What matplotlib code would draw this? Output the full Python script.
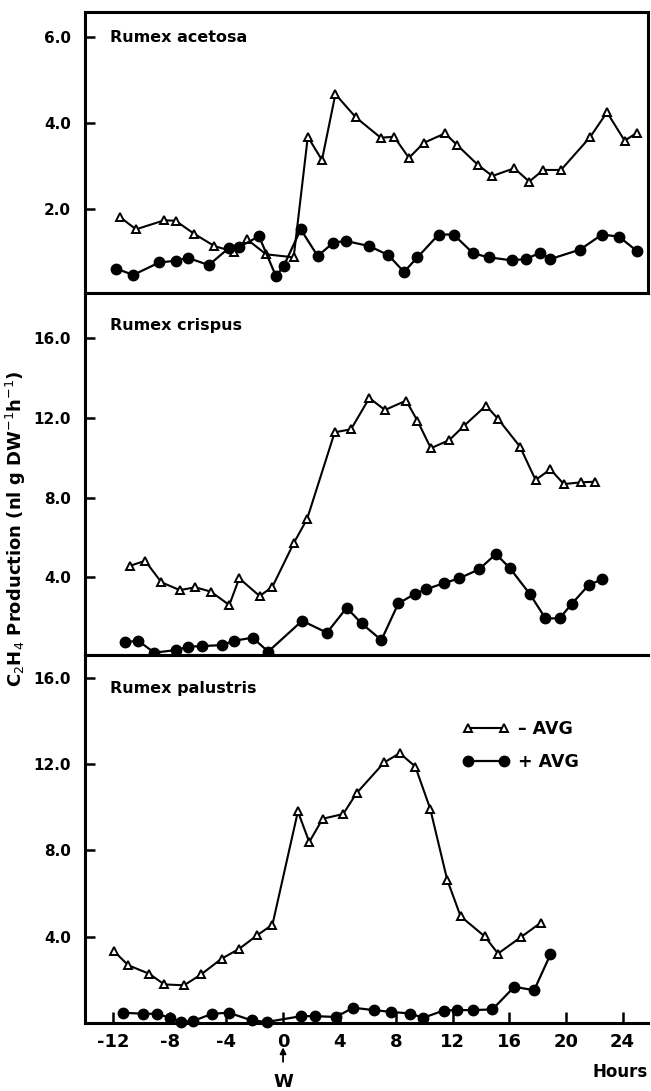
import numpy as np
import matplotlib
matplotlib.use("Agg")
import matplotlib.pyplot as plt

plt.rcParams['font.family'] = ['DejaVu Sans']

# --- Rumex acetosa ---
ac_t_x = [-11.5, -10.4, -8.4, -7.6, -6.3, -4.85, -3.45, -2.55, -1.2, 0.75, 1.75, 2.75,
          3.7, 5.15, 6.9, 7.85, 8.9, 9.95, 11.45, 12.3, 13.8, 14.8, 16.35, 17.4, 18.4,
          19.65, 21.7, 22.9, 24.15, 25.05]
ac_t_y = [1.81, 1.53, 1.74, 1.73, 1.43, 1.14, 1.01, 1.30, 0.95, 0.88, 3.68, 3.14,
          4.67, 4.13, 3.66, 3.68, 3.19, 3.54, 3.76, 3.49, 3.02, 2.77, 2.95, 2.64, 2.91,
          2.91, 3.67, 4.25, 3.59, 3.78]
ac_c_x = [-11.8, -10.6, -8.75, -7.6, -6.75, -5.25, -3.85, -3.1, -1.7, -0.5, 0.05, 1.25,
          2.45, 3.55, 4.45, 6.1, 7.45, 8.55, 9.5, 11.0, 12.05, 13.45, 14.55, 16.15, 17.15,
          18.15, 18.9, 21.0, 22.55, 23.75, 25.0]
ac_c_y = [0.62, 0.47, 0.76, 0.80, 0.87, 0.70, 1.09, 1.12, 1.37, 0.44, 0.68, 1.53,
          0.91, 1.22, 1.26, 1.14, 0.93, 0.54, 0.88, 1.41, 1.41, 0.97, 0.88, 0.81, 0.84,
          0.98, 0.84, 1.06, 1.41, 1.36, 1.03]

# --- Rumex crispus ---
cr_t_x = [-10.85, -9.75, -8.6, -7.3, -6.2, -5.1, -3.8, -3.1, -1.65, -0.75, 0.75, 1.7,
          3.65, 4.8, 6.1, 7.2, 8.7, 9.5, 10.45, 11.75, 12.8, 14.35, 15.2, 16.75, 17.85,
          18.9, 19.85, 21.05, 22.05]
cr_t_y = [4.57, 4.83, 3.75, 3.36, 3.50, 3.28, 2.61, 3.95, 3.06, 3.53, 5.71, 6.93,
          11.28, 11.43, 13.0, 12.4, 12.87, 11.86, 10.48, 10.89, 11.61, 12.62, 11.95, 10.56, 8.89,
          9.42, 8.68, 8.77, 8.80]
cr_c_x = [-11.2, -10.25, -9.1, -7.55, -6.7, -5.7, -4.3, -3.45, -2.15, -1.05, 1.35, 3.1,
          4.5, 5.55, 6.95, 8.15, 9.3, 10.1, 11.35, 12.45, 13.85, 15.05, 16.05, 17.45, 18.55,
          19.55, 20.4, 21.6, 22.55]
cr_c_y = [0.74, 0.82, 0.22, 0.35, 0.52, 0.55, 0.60, 0.82, 0.97, 0.27, 1.82, 1.22,
          2.47, 1.69, 0.85, 2.69, 3.16, 3.40, 3.70, 3.95, 4.40, 5.17, 4.45, 3.16, 1.94,
          1.94, 2.66, 3.61, 3.90]

# --- Rumex palustris ---
pa_t_x = [-11.95, -10.95, -9.45, -8.4, -7.0, -5.8, -4.35, -3.1, -1.85, -0.75, 1.05, 1.85,
          2.8, 4.25, 5.2, 7.15, 8.25, 9.35, 10.4, 11.6, 12.55, 14.25, 15.2, 16.85, 18.2]
pa_t_y = [3.33, 2.68, 2.28, 1.79, 1.75, 2.25, 2.98, 3.44, 4.06, 4.56, 9.81, 8.39,
          9.47, 9.69, 10.66, 12.08, 12.51, 11.89, 9.94, 6.65, 4.95, 4.02, 3.22, 4.00, 4.64]
pa_c_x = [-11.35, -9.9, -8.9, -8.0, -7.2, -6.35, -5.0, -3.85, -2.2, -1.15, 1.3, 2.25,
          3.75, 4.95, 6.4, 7.6, 9.0, 9.9, 11.35, 12.3, 13.4, 14.8, 16.35, 17.75, 18.9]
pa_c_y = [0.48, 0.43, 0.43, 0.24, 0.05, 0.10, 0.43, 0.48, 0.12, 0.05, 0.32, 0.32,
          0.28, 0.71, 0.60, 0.52, 0.44, 0.24, 0.58, 0.60, 0.60, 0.63, 1.68, 1.52, 3.18]

panels = [
    ("Rumex acetosa", ac_t_x, ac_t_y, ac_c_x, ac_c_y, (0.05, 6.58), [2, 4, 6]),
    ("Rumex crispus", cr_t_x, cr_t_y, cr_c_x, cr_c_y, (0.1, 18.27), [4, 8, 12, 16]),
    ("Rumex palustris", pa_t_x, pa_t_y, pa_c_x, pa_c_y, (0.0, 17.06), [4, 8, 12, 16]),
]
xticks = [-12, -8, -4, 0, 4, 8, 12, 16, 20, 24]

fig = plt.figure(figsize=(6.51, 10.91), dpi=100)
boxes = [(0.7314, 0.989), (0.3996, 0.7314), (0.0623, 0.3996)]
left, right = 0.1306, 0.9954

for i, (name, tx, ty, cx, cy, ylim, yt) in enumerate(panels):
    b, t = boxes[i]
    ax = fig.add_axes([left, b, right - left, t - b])
    ax.plot(tx, ty, '-', color='black', lw=1.5, marker='^', ms=5.5,
            mfc='white', mec='black', mew=1.4, label='– AVG', clip_on=False, zorder=3)
    ax.plot(cx, cy, '-', color='black', lw=1.6, marker='o', ms=7.5,
            mfc='black', mec='black', label='+ AVG', clip_on=False, zorder=3)
    ax.set_xlim(-14, 25.8)
    ax.set_ylim(*ylim)
    ax.set_yticks(yt)
    ax.set_yticklabels(['%.1f' % v for v in yt], fontweight='bold', fontsize=11)
    ax.tick_params(axis='y', direction='in', length=7, width=1.8, pad=10)
    for s in ax.spines.values():
        s.set_linewidth(2.2)
    if i > 0:
        ax.spines['right'].set_visible(False)
    ax.text(0.045, 0.91, name, transform=ax.transAxes, fontsize=11.5,
            fontweight='bold', va='center', ha='left')
    if i < 2:
        ax.set_xticks([])
    else:
        ax.set_xticks(xticks)
        ax.set_xticklabels([str(v) for v in xticks], fontsize=13, fontweight='bold')
        ax.tick_params(axis='x', direction='in', length=8, width=1.8, pad=7)
        ax.set_xlabel('Hours', loc='right', fontsize=12, fontweight='bold', labelpad=9)
        ax.annotate('W', xy=(0, -0.066), xycoords=('data', 'axes fraction'),
                    xytext=(0, -0.16), textcoords=('data', 'axes fraction'),
                    ha='center', va='center', fontsize=13, fontweight='bold',
                    arrowprops=dict(arrowstyle='-|>', color='black', lw=1.3,
                                    shrinkA=6, shrinkB=0, mutation_scale=9))
        ax.legend(loc='upper right', bbox_to_anchor=(0.905, 0.865), numpoints=2,
                  frameon=False, prop={'weight': 'bold', 'size': 12.5},
                  handlelength=2.7, handletextpad=0.5, labelspacing=0.85)

fig.text(0.025, 0.515, r'C$_2$H$_4$ Production (nl g DW$^{-1}$h$^{-1}$)',
         rotation=90, ha='center', va='center', fontsize=13, fontweight='bold')

plt.savefig("out.png", dpi=100)
